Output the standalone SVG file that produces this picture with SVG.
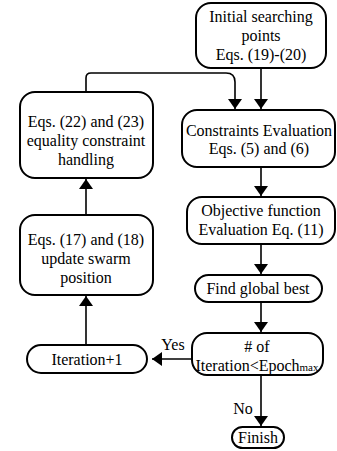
<svg xmlns="http://www.w3.org/2000/svg" width="337" height="451" viewBox="0 0 337 451">
<style>
.box{fill:#fff;stroke:#000;stroke-width:2}
.ln{fill:none;stroke:#000;stroke-width:1.6}
text{font-family:"Liberation Serif","Times New Roman",serif;font-size:16px;fill:#000;text-anchor:middle}
</style>
<defs>
<marker id="ah" viewBox="0 0 10 14" refX="10" refY="7" markerWidth="10" markerHeight="14" markerUnits="userSpaceOnUse" orient="auto">
<path d="M0,0 L10,7 L0,14 Z" fill="#000"/>
</marker>
</defs>
<g id="connectors">
<line class="ln" x1="261" y1="68" x2="261" y2="109" marker-end="url(#ah)"/>
<path class="ln" d="M86,92 V78 Q86,73 91,73 H226 Q235,73 235,82 V109" marker-end="url(#ah)"/>
<line class="ln" x1="261" y1="167" x2="261" y2="196" marker-end="url(#ah)"/>
<line class="ln" x1="261" y1="244" x2="261" y2="274" marker-end="url(#ah)"/>
<line class="ln" x1="261" y1="302" x2="261" y2="332" marker-end="url(#ah)"/>
<line class="ln" x1="261" y1="375" x2="261" y2="426" marker-end="url(#ah)"/>
<line class="ln" x1="192" y1="359" x2="152" y2="359" marker-end="url(#ah)"/>
<line class="ln" x1="86" y1="345" x2="86" y2="296" marker-end="url(#ah)"/>
<line class="ln" x1="86" y1="215" x2="86" y2="179" marker-end="url(#ah)"/>
<text x="173" y="350">Yes</text>
<text x="243" y="414">No</text>
</g>
<g id="n1">
<rect class="box" x="196" y="3" width="130" height="65" rx="15"/>
<text x="261" y="22">Initial searching</text>
<text x="261" y="41">points</text>
<text x="261" y="60">Eqs. (19)-(20)</text>
</g>
<g id="n2">
<rect class="box" x="182" y="110" width="153" height="57" rx="15"/>
<text x="259" y="136">Constraints Evaluation</text>
<text x="259" y="154">Eqs. (5) and (6)</text>
</g>
<g id="n3">
<rect class="box" x="187" y="197" width="148" height="47" rx="15"/>
<text x="261" y="216">Objective function</text>
<text x="261" y="235">Evaluation Eq. (11)</text>
</g>
<g id="n4">
<rect class="box" x="195" y="275" width="127" height="27" rx="13.5"/>
<text x="258" y="294">Find global best</text>
</g>
<g id="n5">
<rect class="box" x="192" y="333" width="131" height="42" rx="15"/>
<text x="257" y="352"># of</text>
<text x="257" y="371">Iteration&lt;Epoch<tspan font-size="11">max</tspan></text>
</g>
<g id="n6">
<rect class="box" x="232" y="427" width="52" height="21" rx="10.5"/>
<text x="258" y="443">Finish</text>
</g>
<g id="n7">
<rect class="box" x="20" y="92" width="133" height="86" rx="15"/>
<text x="86" y="127">Eqs. (22) and  (23)</text>
<text x="86" y="146">equality constraint</text>
<text x="86" y="165">handling</text>
</g>
<g id="n8">
<rect class="box" x="20" y="215" width="133" height="80" rx="15"/>
<text x="86" y="245">Eqs. (17) and (18)</text>
<text x="86" y="264">update swarm</text>
<text x="86" y="283">position</text>
</g>
<g id="n9">
<rect class="box" x="27" y="345" width="120" height="28" rx="14"/>
<text x="87" y="365">Iteration+1</text>
</g>
</svg>
